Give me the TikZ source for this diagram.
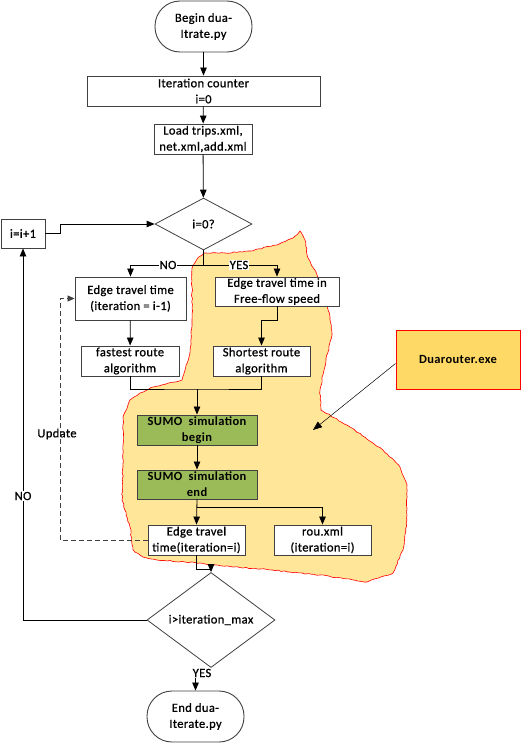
\documentclass[tikz,border=0pt]{standalone}
\usepackage{fontspec}
\setmainfont{Carlito}[LetterSpace=3, FakeBold=0.8, BoldFeatures={FakeBold=0}]
\usetikzlibrary{shapes.geometric,arrows.meta,decorations.pathmorphing}
\definecolor{blobfill}{HTML}{FFE699}
\definecolor{duafill}{HTML}{FFD966}
\definecolor{simgreen}{HTML}{9BBB59}
\definecolor{boxline}{HTML}{404040}
\tikzset{
  txt/.style={font=\fontsize{12.5}{16}\selectfont, align=center, inner sep=0pt},
  box/.style={txt, draw=boxline, line width=0.9pt, fill=white},
  term/.style={box, rounded corners=25pt},
  cond/.style={txt, draw=boxline, line width=0.8pt, fill=white, shape=diamond},
  simbox/.style={box, fill=simgreen, font=\fontsize{12.5}{16}\selectfont\bfseries},
  arr/.style={draw=black, line width=0.8pt, -{Triangle[length=8pt,width=6.5pt]}},
  ln/.style={draw=black, line width=0.8pt},
  dasharr/.style={draw=black!75, line width=0.8pt, dash pattern=on 5pt off 3pt, -{Triangle[length=7pt,width=6pt]}},
  lbl/.style={txt, fill=white, inner sep=1pt},
}
\begin{document}
\begin{tikzpicture}[x=1pt,y=-1pt]
\useasboundingbox (0,0) rectangle (521,744);
% blob
\draw[red, line width=0.6pt, fill=blobfill, decorate, decoration={random steps, segment length=3pt, amplitude=0.6pt}]
 (192,268) -- (197,259) -- (204,253) -- (225,253) -- (250,251) -- (277,245) -- (293,238) -- (300,231)
 -- (305,240) -- (308,258) -- (317,275) -- (324,293) -- (330,317) -- (332,335) -- (326,360) -- (320,390)
 -- (321,410) -- (350,427) -- (383,450) -- (400,467) -- (407,485) -- (407,520) -- (403,550) -- (393,573)
 -- (367,582) -- (320,575) -- (273,570) -- (233,567) -- (200,563) -- (157,560) -- (143,557) -- (133,550)
 -- (130,527) -- (122,500) -- (123,467) -- (123,417) -- (130,400) -- (140,393) -- (153,387) -- (182,380)
 -- (190,353) -- (192,320) -- (192,287) -- cycle;

% nodes
\node[term, minimum width=97pt, minimum height=51pt] (begin) at (203.5,26.5) {Begin dua-\\Itrate.py};
\node[box, minimum width=233pt, minimum height=30pt] (iter) at (203.5,91) {Iteration counter\\i=0};
\node[box, minimum width=98pt, minimum height=30pt] (load) at (203,139) {Load trips.xml,\\net.xml,add.xml};
\node[cond, minimum width=97pt, minimum height=52pt] (d1) at (203.5,224) {i=0?};
\node[box, minimum width=44pt, minimum height=29pt] (inc) at (23,233.5) {i=i+1};
\node[box, minimum width=111pt, minimum height=43pt] (edgeL) at (130.5,298.5) {Edge travel time\\(iteration = i-1)};
\node[box, minimum width=124pt, minimum height=29pt] (edgeR) at (277,291.5) {Edge travel time in\\Free-flow speed};
\node[box, minimum width=98pt, minimum height=30pt] (fastL) at (130,361) {fastest route\\algorithm};
\node[box, minimum width=97pt, minimum height=30pt] (shortR) at (261.5,361) {Shortest route\\algorithm};
\node[simbox, minimum width=120pt, minimum height=30pt] (sb) at (197,430) {SUMO\enspace simulation\\begin};
\node[simbox, minimum width=120pt, minimum height=29pt] (se) at (197,484.5) {SUMO\enspace simulation\\end};
\node[box, minimum width=97pt, minimum height=30pt] (ee) at (196.5,540) {Edge travel\\time(iteration=i)};
\node[box, minimum width=97pt, minimum height=30pt] (rou) at (322.5,540) {rou.xml\\(iteration=i)};
\node[cond, minimum width=128pt, minimum height=76pt] (d2) at (211,620) {i>iteration\_max};
\node[term, minimum width=97pt, minimum height=51pt] (end) at (195.5,716.5) {End dua-\\Iterate.py};
\node[box, draw=red, fill=duafill, line width=0.9pt, minimum width=124pt, minimum height=59pt, font=\fontsize{12.5}{16}\selectfont\bfseries] (dua) at (458,359.5) {Duarouter.exe};

\coordinate (split) at (203.5,265);
\coordinate (m1) at (197,389);
\coordinate (m2) at (197,507);
\coordinate (m3) at (196.5,569);
\coordinate (m4) at (211,673);
\coordinate (dashc) at (60,540);
\coordinate (duatip) at (313,430);

% connectors
\draw[arr] (begin) -- (iter);
\draw[arr] (iter) -- (load);
\draw[arr] (load) -- (d1);
\draw[arr] (inc.east) -- ++(15,0) |- (d1.west);
\draw[ln] (d1.south) -- (split);
\draw[arr] (split) -| (edgeL.north);
\draw[arr] (split) -| (edgeR.north);
\node[lbl] at (168,265) {NO};
\node[lbl] at (239,265) {YES};
\draw[arr] (edgeL) -- (fastL);
\draw[arr] (edgeR.south) -- ++(0,14) -| (shortR.north);
\draw[ln] (fastL.south) |- (m1) -| (shortR.south);
\draw[arr] (m1) -- (sb.north);
\draw[arr] (sb) -- (se);
\draw[arr] (se.south) -- (ee.north);
\draw[arr] (m2) -| (rou.north);
\draw[dasharr] (ee.west) -- (dashc) |- (edgeL.west);
\node[txt] at (57,434) {Update};
\draw[arr] (ee.south) -- (m3) -| (d2.north);
\draw[arr] (d2.west) -| (inc.south);
\node[lbl] at (23,496) {NO};
\draw[arr] (d2.south) -- (m4) -| (end.north);
\node[lbl] at (202,673) {YES};
\draw[line width=0.5pt, -{Triangle[length=9pt,width=7pt]}] (dua.west) ++(0,4) -- (duatip);
\end{tikzpicture}
\end{document}
